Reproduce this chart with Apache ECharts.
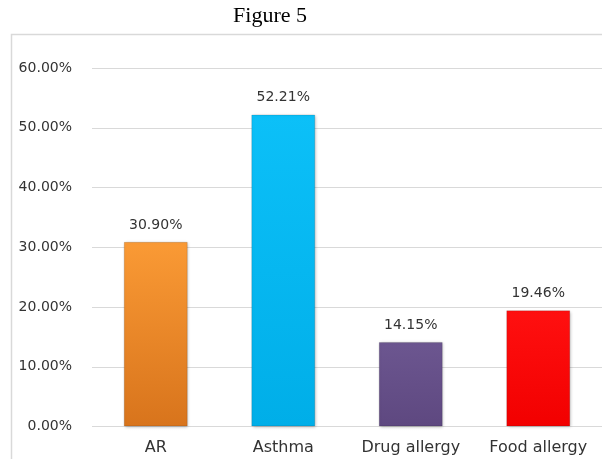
<!DOCTYPE html>
<html>
<head>
<meta charset="utf-8">
<script src="https://cdn.jsdelivr.net/npm/echarts@6/dist/echarts.min.js"></script>
<style>
  html, body { margin: 0; padding: 0; background: #fff; }
  #chart { width: 602px; height: 459px; }
</style>
</head>
<body>
<div id="chart"></div>
<script>
// Prevalence of allergic conditions
const categories = ['AR', 'Asthma', 'Drug allergy', 'Food allergy'];
const values = [30.90, 52.21, 14.15, 19.46];
const yTicks = [0, 10, 20, 30, 40, 50, 60];

// Per-bar fill: top colour, bottom colour
const barColors = [
  ['#fa9a35', '#d8741c'],
  ['#0cc0f8', '#00aee8'],
  ['#6c5690', '#5e4880'],
  ['#ff1010', '#f20000']
];

const labelFont = '"DejaVu Sans", "Liberation Sans", sans-serif';

function fill(c) {
  return new echarts.graphic.LinearGradient(0, 0, 0, 1, [
    { offset: 0, color: c[0] },
    { offset: 1, color: c[1] }
  ]);
}

const chart = echarts.init(document.getElementById('chart'), null, { renderer: 'canvas' });

chart.setOption({
  animation: false,
  backgroundColor: '#ffffff',
  graphic: [{
    type: 'rect',
    shape: { x: 11.5, y: 34.5, width: 600, height: 440 },
    style: { fill: 'none', stroke: '#d9d9d9', lineWidth: 1.5 },
    silent: true
  }, {
    type: 'text',
    x: 270,
    y: 16,
    style: {
      text: 'Figure 5',
      align: 'center',
      verticalAlign: 'middle',
      font: '22px "Liberation Serif", "DejaVu Serif", serif',
      fill: '#000'
    },
    silent: true
  }],
  grid: { left: 92, top: 68, width: 512, height: 358.5, containLabel: false },
  xAxis: {
    type: 'category',
    data: categories,
    axisLine: { show: false },
    axisTick: { show: false },
    axisLabel: {
      interval: 0,
      hideOverlap: false,
      margin: 13,
      fontFamily: labelFont,
      fontSize: 16,
      color: '#333'
    }
  },
  yAxis: {
    type: 'value',
    min: yTicks[0],
    max: yTicks[yTicks.length - 1],
    interval: 10,
    axisLine: { show: false },
    axisTick: { show: false },
    splitLine: { lineStyle: { color: '#d9d9d9', width: 1 } },
    axisLabel: {
      margin: 20,
      fontFamily: labelFont,
      fontSize: 14,
      color: '#333',
      formatter: v => v.toFixed(2) + '%'
    }
  },
  series: [{
    type: 'bar',
    barWidth: 64,
    data: values.map((v, i) => ({
      value: v,
      itemStyle: {
        color: fill(barColors[i]),
        borderColor: 'rgba(0,0,0,0.12)',
        borderWidth: 1,
        shadowColor: 'rgba(0,0,0,0.25)',
        shadowBlur: 3,
        shadowOffsetX: 1,
        shadowOffsetY: 1
      }
    })),
    label: {
      show: true,
      position: 'top',
      distance: 10,
      fontFamily: labelFont,
      fontSize: 14,
      color: '#333',
      formatter: p => p.value.toFixed(2) + '%'
    }
  }]
});
</script>
</body>
</html>
